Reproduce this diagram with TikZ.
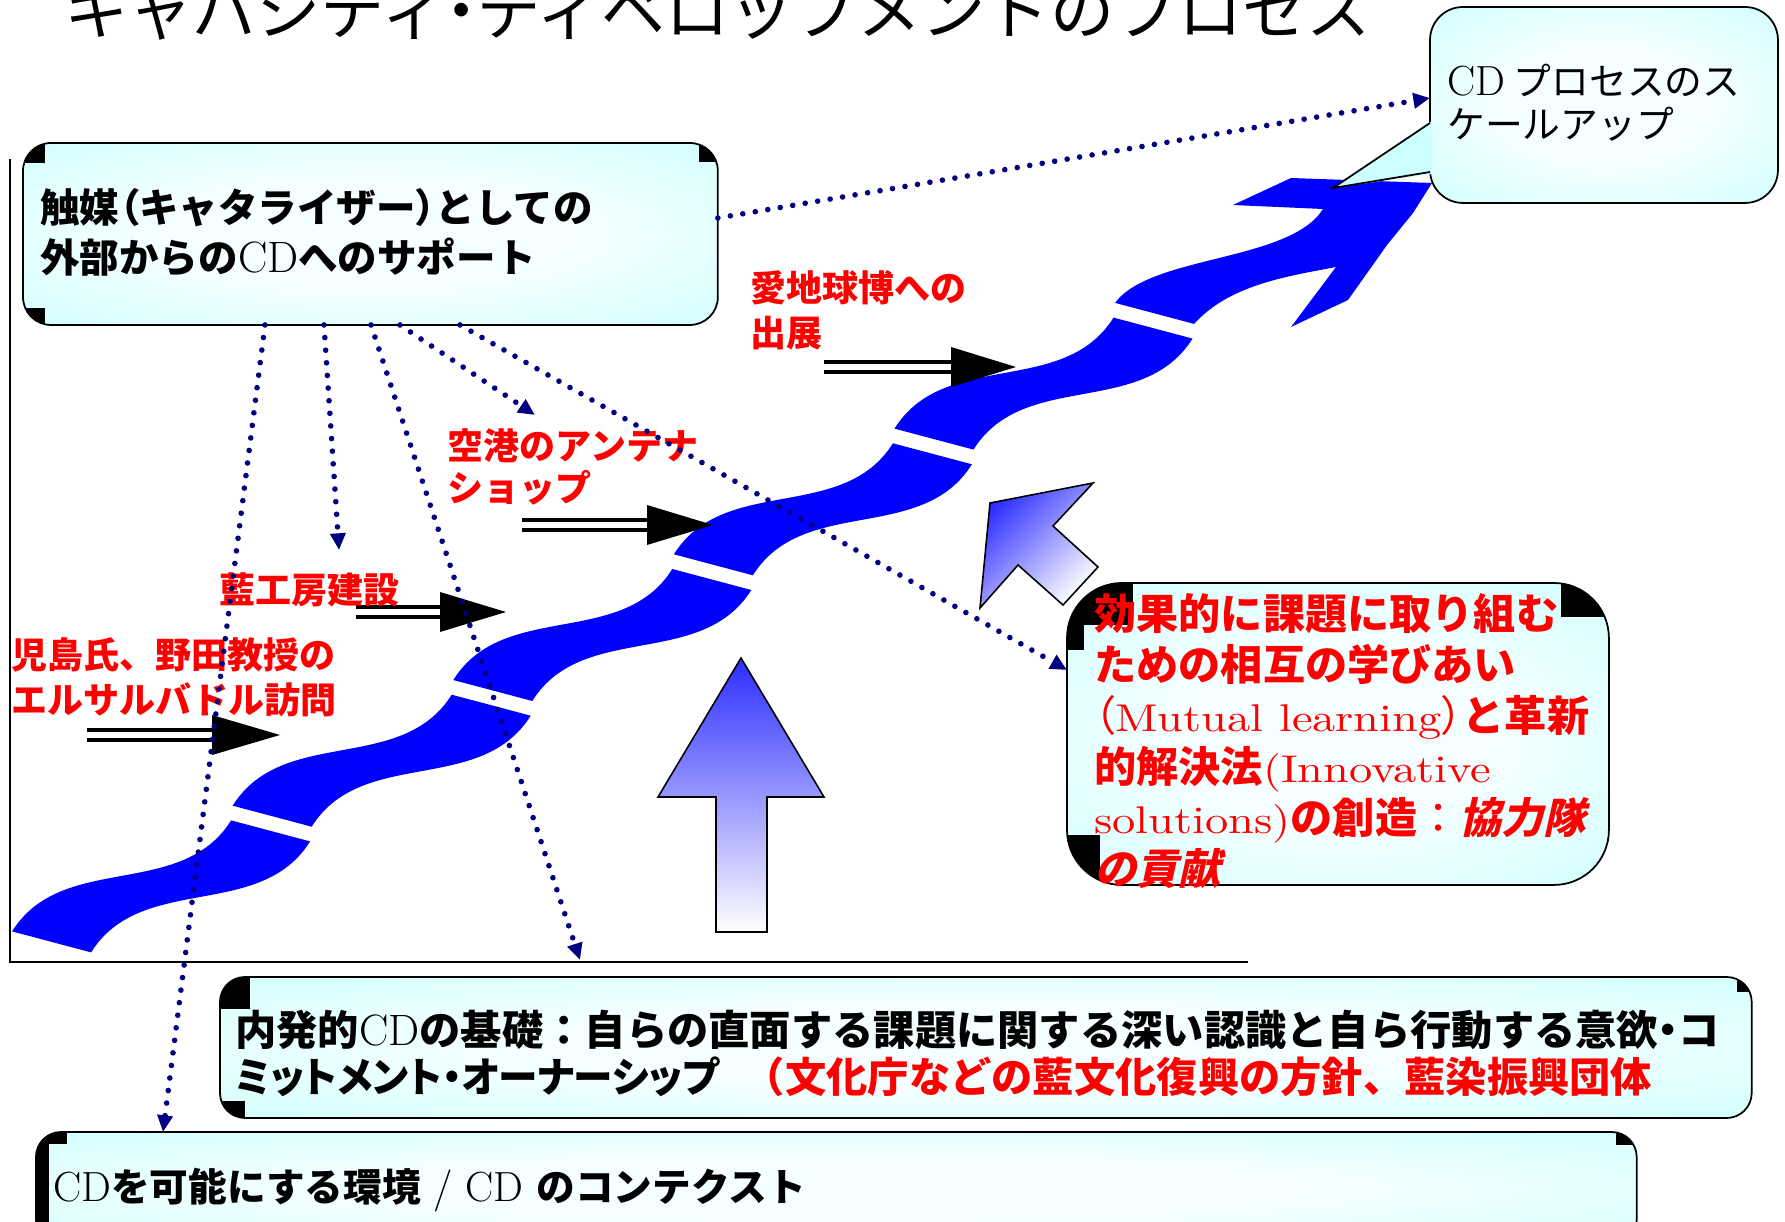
\documentclass[tikz,border=0pt]{standalone}
\usepackage{fontspec}
\usetikzlibrary{arrows.meta,calc}
\newfontfamily\jp{Noto Sans CJK JP}
\newfontfamily\jpp{Noto Sans CJK JP}[RawFeature=+palt]
\newfontfamily\jpn{Noto Sans CJK JP}[RawFeature=+palt, FakeStretch=0.96]
\newfontfamily\jpsl{Noto Sans CJK JP}[FakeSlant=0.22]
\newfontfamily\latw{lmroman10-regular.otf}[FakeStretch=1.2]
\definecolor{navyd}{RGB}{0,0,128}
\definecolor{ribbonblue}{RGB}{0,0,255}
\definecolor{glowout}{RGB}{204,255,255}
\definecolor{glowin}{RGB}{246,255,255}
\definecolor{rd}{RGB}{255,0,0}
\definecolor{arrowblue}{RGB}{45,45,255}
\pgfdeclareradialshading{glow}{\pgfpoint{0bp}{0bp}}{color(0bp)=(glowin); color(14bp)=(glowin); color(40bp)=(glowout); color(50bp)=(glowout)}
\newcommand\ltn[2]{{\rmfamily\mdseries\fontsize{#1}{#1}\selectfont #2}}
\newcommand\lw[2]{{\latw\mdseries\fontsize{#1}{#1}\selectfont #2}}
\newcommand\pp[1]{{\jpp\mdseries #1}}
\newcommand\seg[2]{\begin{scope}[shift={(#1,#2)}]\fill[ribbonfill] (0,0) .. controls (50,-80) and (169,-31) .. (219,-111) -- (298,-90) .. controls (248,-10) and (129,-59) .. (79,21) -- cycle;\end{scope}}
\newcommand\dbl[5]{%
  \coordinate (#1s) at (#2,#5); \coordinate (#1b) at (#3,#5); \coordinate (#1t) at (#4,#5);
  \draw[dblline] (#1s) -- (#1b);
  \fill[headfill] ($(#1b)+(0,-20)$) -- (#1t) -- ($(#1b)+(0,20)$) -- cycle;}
\tikzset{
  cdbox/.style={draw=black, line width=1pt, rectangle, inner sep=0pt, outer sep=0pt, anchor=north west},
  blk/.style={fill=black, draw=none, sharp corners},
  boxpp/.style={path picture={
    \shade[shading=glow, draw=none, sharp corners] (path picture bounding box.south west) rectangle (path picture bounding box.north east);
    #1}},
  corners/.style n args={6}{boxpp={
    \fill[blk] (path picture bounding box.north west) rectangle ++(#1,#2);
    \fill[blk] (path picture bounding box.north east) rectangle ++(-#3,#4);
    \fill[blk] (path picture bounding box.south west) rectangle ++(#5,-#6);}},
  axisline/.style={draw=black, line width=0.9pt},
  ribbonfill/.style={fill=ribbonblue},
  dblline/.style={draw=black, double=white, double distance=2.9pt, line width=2.3pt},
  headfill/.style={fill=black},
  gradarrow/.style={draw=black, line width=0.9pt, top color=arrowblue, bottom color=white},
  dotarrow/.style={draw=navyd, line width=3.2pt, line cap=round, dash pattern=on 0pt off 7.2pt, -{Triangle[length=9.5pt,width=8.5pt]}},
  lbl/.style={anchor=north west, inner sep=0pt, align=left, text=rd, font=\jp\bfseries\fontsize{20.5}{25.5}\selectfont},
  boxtext/.style={anchor=north west, inner sep=0pt, align=left},
}
\begin{document}
\begin{tikzpicture}[x=0.02cm,y=-0.02cm]
\useasboundingbox (0,0) rectangle (1785,1222);
% axes
\draw[axisline] (10,159) -- (10,962) -- (1248,962);
% title
\node[anchor=south west, inner sep=0pt, font=\jp\fontsize{36.5}{40}\selectfont] (title) at (64,41) {キャパシティ{\jpp ・}ディベロップメントのプロセス};
% boxes
\node[cdbox, minimum width=13.9cm, minimum height=3.64cm, rounded corners=0.56cm, corners={22}{20}{19}{19}{22}{17}] (boxA) at (23,143) {};
\node[cdbox, minimum width=10.84cm, minimum height=6.04cm, rounded corners=1.1cm, boxpp={
    \fill[blk] (path picture bounding box.north west) rectangle ++(66,42);
    \fill[blk] (path picture bounding box.north west) rectangle ++(17,67);
    \fill[blk] (path picture bounding box.north east) rectangle ++(-48,34);
    \fill[blk] (path picture bounding box.south west) rectangle ++(33,-50);}] (boxC) at (1067,583) {};
\node[cdbox, minimum width=30.64cm, minimum height=2.82cm, rounded corners=0.5cm, corners={30}{32}{15}{15}{25}{17}] (boxD) at (220,977) {};
\node[cdbox, minimum width=32.02cm, minimum height=2.26cm, rounded corners=0.5cm, boxpp={
    \fill[blk] (path picture bounding box.north west) rectangle ++(31,12);
    \fill[blk] (path picture bounding box.north west) rectangle ++(13,120);
    \fill[blk] (path picture bounding box.north east) rectangle ++(-21,13);}] (boxE) at (36,1132) {};
% ribbon
\seg{12.1}{931.4}
\seg{232.7}{805.7}
\seg{453.3}{680}
\seg{673.9}{554.3}
\seg{894.5}{428.6}
\fill[ribbonfill] (1115.1,302.9) .. controls (1150,255) and (1290,262) .. (1323,209) -- (1233,205) -- (1291,178) -- (1432,183) -- (1413,213) -- (1387,245) -- (1348,300) -- (1291,327) -- (1336,267) .. controls (1290,276) and (1230,284) .. (1194.1,323.9) -- cycle;
% gradient arrows
\shade[gradarrow] (741,658) -- (824,797) -- (767,797) -- (767,932) -- (716,932) -- (716,797) -- (658,797) -- cycle;
\shade[gradarrow, shading angle=45] (990,503) -- (1093,483) -- (1053,526) -- (1098,567) -- (1063,605) -- (1018,565) -- (980,608) -- cycle;
% callout
\node[cdbox, minimum width=6.96cm, minimum height=3.92cm, rounded corners=0.66cm, boxpp={}] (boxB) at (1430,7) {};
\fill[glowout] (1432,121) -- (1333,188) -- (1432,174) -- cycle;
\draw[line width=1pt] (1430,123) -- (1333,188) -- (1430,172);
% double arrows
\dbl{a1}{87}{212}{280}{735}
\dbl{a2}{356}{440}{506}{612}
\dbl{a3}{522}{647}{713}{525}
\dbl{a4}{824}{951}{1016}{367}
% labels
\node[lbl] (l1) at (11,637) {児島氏、野田教授の\\エルサルバドル訪問};
\node[lbl] (l2) at (219,572) {藍工房建設};
\node[lbl, font=\jp\bfseries\fontsize{20.5}{24}\selectfont] (l3) at (447,428) {空港のアンテナ\\ショップ};
\node[lbl] (l4) at (750,270) {愛地球博への\\出展};
% box texts
\node[boxtext, font=\jp\bfseries\fontsize{22.5}{28.5}\selectfont] (tA) at (40,188) {触媒{\jpp （}キャタライザー{\jpp ）}としての\\外部からの\ltn{25}{CD}へのサポート};
\node[boxtext, font=\jp\fontsize{21.5}{24.5}\selectfont] (tB) at (1447,64) {\ltn{24}{CD} プロセスのス\\ケールアップ};
\node[boxtext, text=rd, font=\jp\bfseries\fontsize{24}{29}\selectfont] (tC) at (1094,593) {効果的に課題に取り組む\\ための相互の学びあい\\\pp{（}\lw{22}{Mutual learning}\pp{）}と革新\\的解決法\lw{22}{(Innovative}\\\lw{22}{solutions)}の創造{\mdseries ：}{\jpsl\bfseries 協力隊}\\{\jpsl\bfseries の貢献}};
\node[boxtext, font=\jp\bfseries\fontsize{23.5}{26.7}\selectfont] (tD) at (235,1010) {内発的\ltn{25}{CD}の基礎：自らの直面する課題に関する深い認識と自ら行動する意欲{\jpp ・}コ\\{\jpn ミットメント・オーナーシップ}\hspace{0.6em}{\color{rd}（文化庁などの藍文化復興の方針、藍染振興団体}};
\node[boxtext, font=\jp\bfseries\fontsize{22}{26}\selectfont] (tE) at (53,1168) {\ltn{24}{CD}を可能にする環境\ltn{24}{ / CD }のコンテクスト};
% dotted connectors
\coordinate (tb) at (339,550);
\coordinate (tc) at (580,960);
\coordinate (td) at (535,415);
\draw[dotarrow] ($(boxA.south west)+(242,0)$) -- ($(boxE.north west)+(127,0)$);
\draw[dotarrow] ($(boxA.south west)+(301,0)$) -- (tb);
\draw[dotarrow] ($(boxA.south west)+(348,0)$) -- (tc);
\draw[dotarrow] ($(boxA.south west)+(377,0)$) -- (td);
\draw[dotarrow] ($(boxA.south west)+(437,0)$) -- ($(boxC.north west)+(0,87)$);
\draw[dotarrow] ($(boxA.north east)+(0,75)$) -- ($(boxB.north west)+(0,91)$);
\end{tikzpicture}
\end{document}
